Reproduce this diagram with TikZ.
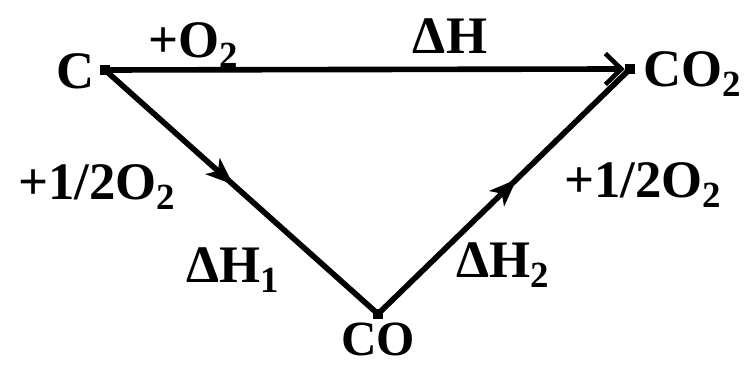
\documentclass[tikz,border=0pt]{standalone}
\usepackage{fontspec}
\setmainfont{Liberation Serif}
\usetikzlibrary{arrows.meta}
\usetikzlibrary{decorations.markings}

\begin{document}
\begin{tikzpicture}[x=1cm,y=1cm,
    lab/.style={font=\fontsize{30}{34}\selectfont\bfseries, inner sep=0pt},
    dot/.style={fill=black, minimum size=0.2cm, inner sep=0pt},
    route/.style={line width=3.2pt},
    midarrow/.style={postaction={decorate},
      decoration={markings, mark=at position #1 with {\arrow{Stealth[length=0.55cm,width=0.42cm,inset=0.14cm]}}}}]
        \useasboundingbox (0,0) rectangle (14.94,7.34);

        % --- 物質 ---
        \node[dot] (C) at (2.1,5.94) {};
        \node[dot] (CO2) at (12.6,5.96) {};
        \node[dot] (CO) at (7.56,1.06) {};

        % --- 反応経路 ---
        \draw[route,-{Straight Barb[length=0.32cm,width=0.62cm,line width=2.6pt]}] (C.center) -- (CO2.west);
        \draw[route,midarrow=0.47] (C.center) -- (CO.center);
        \draw[route,midarrow=0.55] (CO.center) -- (CO2.center);

        % ラベル
        \node[lab] (lC) at (1.52,5.92) {C};
        \node[lab,anchor=west] (lCO2) at (12.86,5.86) {CO\textsubscript{2}};
        \node[lab,anchor=base,font=\fontsize{28}{32}\selectfont\bfseries] (lCO) at (7.56,0.23) {CO};
        \node[lab] (lO2) at (3.88,6.44) {+O\textsubscript{2}};
        \node[lab] (lH) at (9.0,6.62) {ΔH};
        \node[lab] (lhalfL) at (1.94,3.6) {+1/2O\textsubscript{2}};
        \node[lab] (lhalfR) at (12.86,3.64) {+1/2O\textsubscript{2}};
        \node[lab] (lH1) at (4.66,1.94) {ΔH\textsubscript{1}};
        \node[lab] (lH2) at (10.06,2.04) {ΔH\textsubscript{2}};
      \end{tikzpicture}
\end{document}
